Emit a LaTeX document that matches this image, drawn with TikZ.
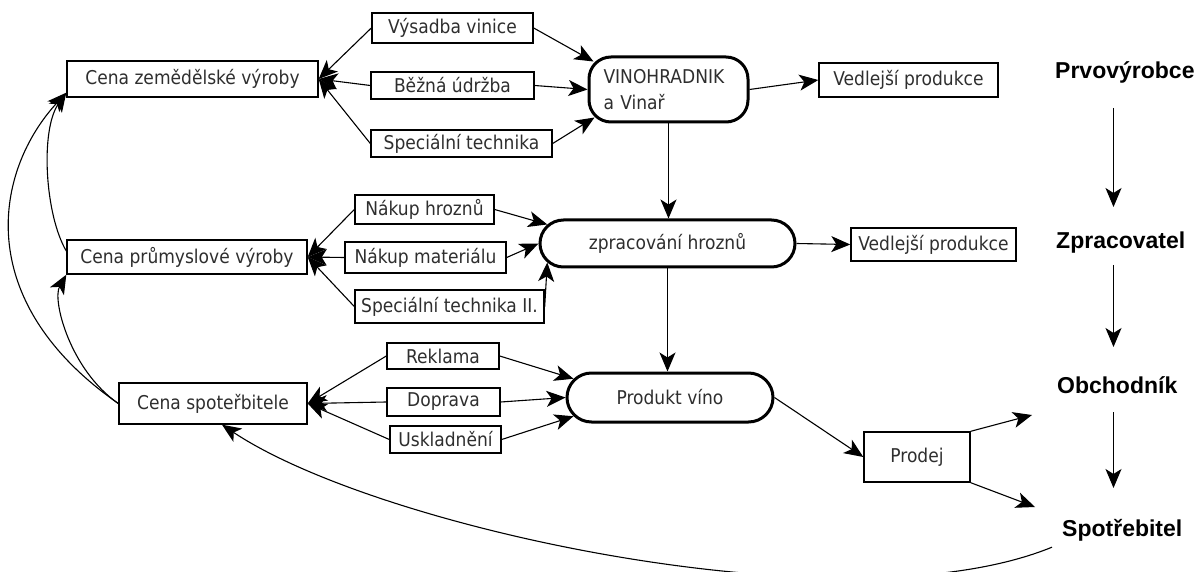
\documentclass[tikz,border=0pt]{standalone}
\usepackage{fontspec}
\setmainfont{DejaVu Sans Condensed}
\newfontfamily\labfont{Liberation Sans}
\usetikzlibrary{arrows.meta,shapes.misc,calc}
\definecolor{txt}{HTML}{2E2E2E}
\begin{document}
\begin{tikzpicture}[x=1pt,y=-1pt,
  bx/.style 2 args={draw=black, line width=1.4pt, inner sep=0pt, text=txt,
    font=\fontsize{19}{26}\selectfont, minimum width=#1pt, minimum height=#2pt},
  stad/.style 2 args={draw=black, line width=3pt, rounded rectangle, inner sep=0pt, text=txt,
    font=\fontsize{19}{26}\selectfont, minimum width=#1pt, minimum height=#2pt},
  lab/.style={anchor=west, inner sep=0pt, font=\labfont\bfseries\fontsize{23}{26}\selectfont},
  arr/.style={-{Stealth[length=19pt,width=16pt,inset=5pt]}, line width=1.1pt}
]
\useasboundingbox (0,0) rectangle (1195,572);

% top row
\node[bx={251}{36}] (cz) at (192.5,79) {Cena zemědělské výroby};
\node[bx={161}{30}] (vv) at (452.5,28) {Výsadba vinice};
\node[bx={163}{27}] (bu) at (452.5,85.5) {Běžná údržba};
\node[bx={181}{27}] (st) at (461.5,143.5) {Speciální technika};
\node[draw=black, line width=3pt, rounded corners=22pt, inner sep=0pt, text=txt,
  minimum width=159pt, minimum height=65pt, text width=130pt, align=left,
  font=\fontsize{19}{26}\selectfont] (vin) at (668.5,89.5) {VINOHRADNIK\\a Vinař};
\node[bx={179}{34}] (ved1) at (908.5,80) {Vedlejší produkce};

% middle row
\node[bx={240}{34}] (cp) at (187,257) {Cena průmyslové výroby};
\node[bx={139}{29}] (nh) at (424.5,209.5) {Nákup hroznů};
\node[bx={161}{31}] (nm) at (425.5,257.5) {Nákup materiálu};
\node[bx={189}{33}] (st2) at (449.5,306.5) {Speciální technika II.};
\node[stad={255}{47}] (zp) at (667.5,243.5) {zpracování hroznů};
\node[bx={165}{33}] (ved2) at (933.5,244.5) {Vedlejší produkce};

% bottom row
\node[bx={188}{41}] (cs) at (213,403.5) {Cena spoteřbitele};
\node[bx={112}{26}] (rk) at (443,356) {Reklama};
\node[bx={113}{28}] (dp) at (443.5,402) {Doprava};
\node[bx={111}{27}] (us) at (445.5,439.5) {Uskladnění};
\node[stad={206}{49}] (pv) at (670,397.5) {Produkt víno};
\node[bx={106}{50}] (pd) at (917,457) {Prodej};

% right labels
\node[lab] (prv) at (1055,72) {Prvovýrobce};
\node[lab] (zpr) at (1056,243) {Zpracovatel};
\node[lab] (obc) at (1057,385) {Obchodník};
\node[lab] (spo) at (1062,530) {Spotřebitel};
\coordinate (ax) at (1113.5,0);
\coordinate (o1) at (1032,415);
\coordinate (o2) at (1035,507);

% top connectors
\draw[arr] (vv.east) -- ($(vin.north west)+(6,6)$);
\draw[arr] (bu.east) -- (vin.west);
\draw[arr] (st.east) -- ($(vin.south west)+(7,-6)$);
\draw[arr] (vv.west) -- (cz.east);
\draw[arr] (bu.west) -- (cz.east);
\draw[arr] (st.west) -- (cz.east);
\draw[arr] (vin.east) -- (ved1.west);
\draw[arr] (vin.south) -- (vin.south |- zp.north);

% middle connectors
\draw[arr] (nh.east) -- (zp.171);
\draw[arr] (nm.east) -- (zp.west);
\draw[arr] (st2.east) -- (zp.189);
\draw[arr] (nh.west) -- (cp.east);
\draw[arr] (nm.west) -- (cp.east);
\draw[arr] (st2.west) -- (cp.east);
\draw[arr] (zp.east) -- (ved2.west);
\draw[arr] (zp.south) -- (zp.south |- pv.north);

% bottom connectors
\draw[arr] (rk.east) -- (pv.169);
\draw[arr] (dp.east) -- (pv.west);
\draw[arr] (us.east) -- (pv.191);
\draw[arr] (rk.west) -- (cs.east);
\draw[arr] (dp.west) -- (cs.east);
\draw[arr] (us.west) -- (cs.east);
\draw[arr] (pv.east) -- (pd.west);
\draw[arr] (pd.north east) -- (o1);
\draw[arr] (pd.south east) -- (o2);

% right column arrows
\draw[arr] ($(prv.center -| ax)+(0,36)$) -- ($(zpr.center -| ax)+(0,-36)$);
\draw[arr] ($(zpr.center -| ax)+(0,22)$) -- ($(obc.center -| ax)+(0,-38)$);
\draw[arr] ($(obc.center -| ax)+(0,27)$) -- ($(spo.center -| ax)+(0,-42)$);

% left feedback curves
\draw[arr] (cs.west) .. controls (-30,300) and (-5,170) .. ($(cz.south west)+(0,-5)$);
\draw[arr] ($(cp.west)+(0,-6)$) .. controls (45,215) and (40,130) .. ($(cz.south west)+(0,-5)$);
\draw[arr] (cs.west) .. controls (70,370) and (52,300) .. (cp.south west);

% bottom feedback curve
\draw[arr] ($(spo.south west)+(-10,6)$) .. controls (850,630) and (380,530) .. ($(cs.south)+(9,0)$);
\end{tikzpicture}
\end{document}
